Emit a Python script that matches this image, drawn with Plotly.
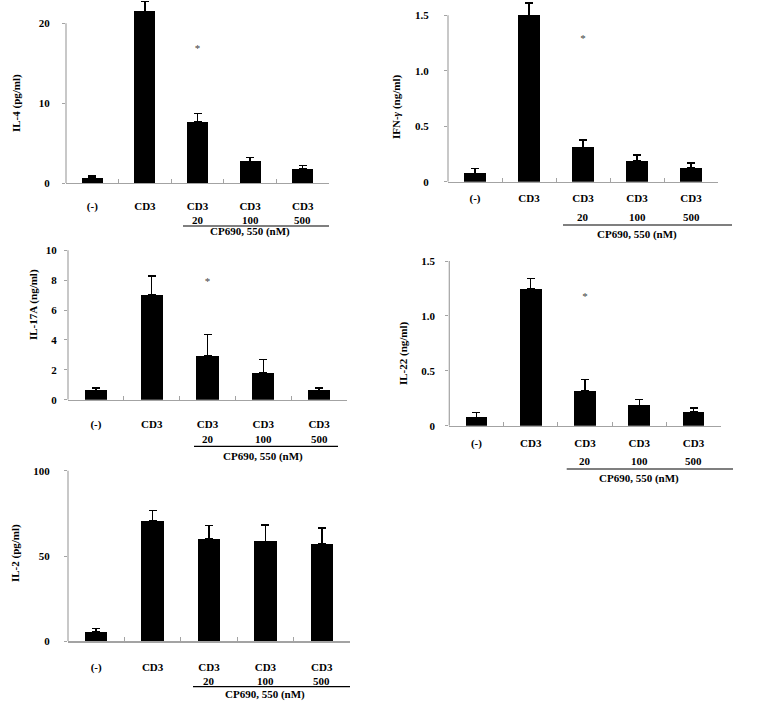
import plotly.graph_objects as go

W, H = 759, 701

# ---------------- data ----------------
categories = ["(-)", "CD3", "CD3", "CD3", "CD3"]
doses = ["20", "100", "500"]
drug_label = "CP690, 550 (nM)"

il4 = [0.6, 21.5, 7.7, 2.7, 1.75]
il4_err = [0.3, 1.2, 1.0, 0.5, 0.45]
ifng = [0.075, 1.50, 0.31, 0.187, 0.126]
ifng_err = [0.045, 0.11, 0.066, 0.053, 0.042]
il17a = [0.62, 7.04, 2.93, 1.78, 0.62]
il17a_err = [0.18, 1.23, 1.43, 0.91, 0.18]
il22 = [0.076, 1.248, 0.316, 0.185, 0.125]
il22_err = [0.042, 0.094, 0.106, 0.052, 0.036]
il2 = [5.6, 70.4, 60.1, 58.6, 57.2]
il2_err = [2.0, 6.3, 7.8, 9.7, 9.3]

il4_ticks = [0, 10, 20]
ifng_ticks = [0, 0.5, 1.0, 1.5]
il17a_ticks = [0, 2, 4, 6, 8, 10]
il22_ticks = [0, 0.5, 1.0, 1.5]
il2_ticks = [0, 50, 100]

ifng_ticktext = ["0", "0.5", "1.0", "1.5"]
il22_ticktext = ["0", "0.5", "1.0", "1.5"]

il4_star = 16.75
ifng_star = 1.28
il17a_star = 7.87
il22_star = 1.166

titles = ["IL-4 (pg/ml)", "IFN-<i>γ</i> (ng/ml)", "IL-17A (ng/ml)", "IL-22 (ng/ml)", "IL-2 (pg/ml)"]

# ---------------- layout geometry (window pixels) ----------------
panels = [
    dict(vals=il4, err=il4_err, ticks=il4_ticks, ticktext=None, star=il4_star,
         x0=66, x1=329, yz=183, ytopval=20, ytoppx=23.3, plottop=0,
         catstand=13, ystand=10, lab_x=17, lab_y=103,
         dose_y=220, line_y=226, line_x0=183, line_x1=329, cp_y=231),
    dict(vals=ifng, err=ifng_err, ticks=ifng_ticks, ticktext=ifng_ticktext, star=ifng_star,
         x0=448, x1=718, yz=181.7, ytopval=1.5, ytoppx=15.3, plottop=0,
         catstand=6, ystand=13, lab_x=397, lab_y=107,
         dose_y=217, line_y=225, line_x0=563, line_x1=732, cp_y=234),
    dict(vals=il17a, err=il17a_err, ticks=il17a_ticks, ticktext=None, star=il17a_star,
         x0=68, x1=347, yz=399.7, ytopval=10, ytoppx=250.3, plottop=244,
         catstand=14, ystand=5, lab_x=33, lab_y=305,
         dose_y=439, line_y=446.3, line_x0=194, line_x1=338, cp_y=456),
    dict(vals=il22, err=il22_err, ticks=il22_ticks, ticktext=il22_ticktext, star=il22_star,
         x0=449.3, x1=720.7, yz=425.7, ytopval=1.5, ytoppx=261, plottop=255,
         catstand=7, ystand=8, lab_x=403, lab_y=353,
         dose_y=460.7, line_y=469, line_x0=566.7, line_x1=733, cp_y=478),
    dict(vals=il2, err=il2_err, ticks=il2_ticks, ticktext=None, star=None,
         x0=68, x1=350, yz=641.3, ytopval=100, ytoppx=470.7, plottop=465,
         catstand=15, ystand=12, lab_x=15, lab_y=553,
         dose_y=680.7, line_y=686.7, line_x0=193, line_x1=350, cp_y=694),
]


def px(x):
    return x / W


def py(y):
    return 1 - y / H


FONT = dict(family="Liberation Serif, Times New Roman, serif", size=11, color="black", weight="bold")
AXCOL = "#a3a3a3"

fig = go.Figure()
shapes = []
annotations = []
layout = {}

for i, p in enumerate(panels):
    n = "" if i == 0 else str(i + 1)
    xa, ya = "x" + n, "y" + n
    ppu = (p["yz"] - p["ytoppx"]) / p["ytopval"]
    rtop = (p["yz"] - p["plottop"]) / ppu
    xs = list(range(len(categories)))

    fig.add_trace(go.Bar(
        x=xs, y=p["vals"], width=0.4, xaxis=xa, yaxis=ya,
        marker=dict(color="black", line=dict(width=0)),
        error_y=dict(type="data", array=p["err"], arrayminus=[0] * len(xs), symmetric=False,
                     color="black", thickness=1.5, width=4),
        showlegend=False, hoverinfo="skip"))
    if p["star"] is not None:
        fig.add_trace(go.Scatter(
            x=[2], y=[p["star"]], mode="text", text=["*"], xaxis=xa, yaxis=ya,
            textfont=dict(family=FONT["family"], size=11, color="#444444"),
            showlegend=False, hoverinfo="skip"))

    layout["xaxis" + n] = dict(
        domain=[px(p["x0"]), px(p["x1"])], anchor=ya, range=[-0.5, 4.5], automargin=False,
        showline=True, linecolor=AXCOL, linewidth=1.2, showgrid=False, zeroline=False,
        tickmode="array", tickvals=xs, ticktext=categories, ticks="",
        ticklabelstandoff=p["catstand"], tickfont=FONT,
        minor=dict(tickmode="array", tickvals=[0.5, 1.5, 2.5, 3.5], ticks="inside",
                   ticklen=4, tickcolor=AXCOL, tickwidth=1, showgrid=False),
        fixedrange=True)
    yd = dict(
        domain=[py(p["yz"]), py(p["plottop"])], anchor=xa, range=[0, rtop],
        automargin=False, showline=False, showgrid=False, zeroline=False,
        tickmode="array", tickvals=p["ticks"], ticks="outside", ticklen=3,
        tickcolor=AXCOL, tickwidth=1, ticklabelstandoff=p["ystand"], tickfont=FONT,
        fixedrange=True)
    if p["ticktext"] is not None:
        yd["ticktext"] = p["ticktext"]
    layout["yaxis" + n] = yd

    # vertical axis line (only up to the top tick)
    shapes.append(dict(type="line", xref=xa + " domain", yref=ya, x0=0, x1=0,
                       y0=0, y1=p["ytopval"], line=dict(color=AXCOL, width=1.2)))
    # treatment underline
    shapes.append(dict(type="line", xref="paper", yref="paper",
                       x0=px(p["line_x0"]), x1=px(p["line_x1"]),
                       y0=py(p["line_y"]), y1=py(p["line_y"]),
                       line=dict(color="black", width=1.2)))
    for k, d in enumerate(doses):
        annotations.append(dict(text=d, xref=xa, yref="paper", x=2 + k, y=py(p["dose_y"]),
                                showarrow=False, font=FONT, xanchor="center", yanchor="middle"))
    annotations.append(dict(text=drug_label, xref=xa, yref="paper", x=3, y=py(p["cp_y"]),
                            showarrow=False, font=FONT, xanchor="center", yanchor="middle"))
    annotations.append(dict(text=titles[i], xref="paper", yref="paper",
                            x=px(p["lab_x"]), y=py(p["lab_y"]), textangle=-90,
                            showarrow=False, font=FONT, xanchor="center", yanchor="middle"))

fig.update_layout(
    template="none",
    width=W, height=H, margin=dict(l=0, r=0, t=0, b=0, pad=0),
    paper_bgcolor="white", plot_bgcolor="white", hovermode=False,
    shapes=shapes, annotations=annotations, bargap=0, **layout)

fig.write_html("out.html", config={"displayModeBar": False, "staticPlot": True},
               post_script="document.body.style.margin='0px';")
